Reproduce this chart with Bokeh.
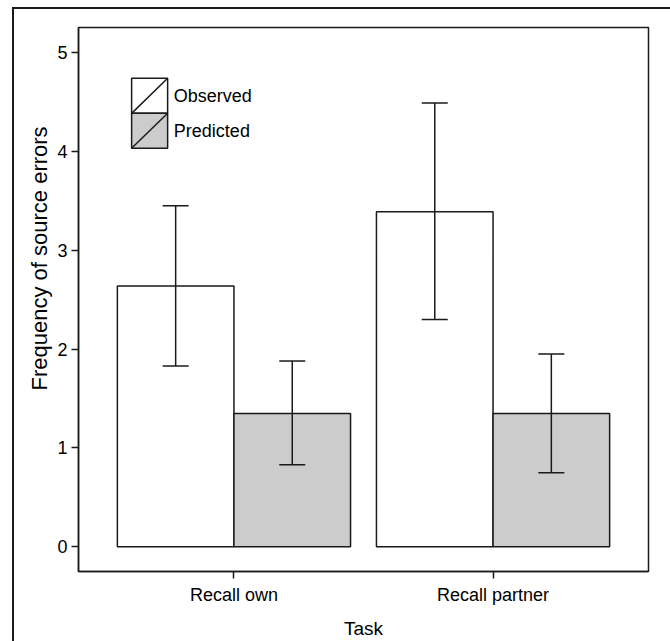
from bokeh.plotting import figure
from bokeh.models import (ColumnDataSource, FactorRange, Range1d, FixedTicker,
                          Whisker, TeeHead, Title)
from bokeh.transform import dodge
from bokeh.core.properties import value
from bokeh.embed import file_html
from bokeh.resources import INLINE

# ---- data ----
tasks = ["Recall own", "Recall partner"]
observed = [2.64, 3.39]
observed_upper = [3.45, 4.49]
observed_lower = [1.83, 2.30]
predicted = [1.35, 1.35]
predicted_upper = [1.88, 1.95]
predicted_lower = [0.83, 0.75]
y_ticks = [0, 1, 2, 3, 4, 5]
series_names = ["Observed", "Predicted"]
series_colors = ["#ffffff", "#cccccc"]

FONT = "Liberation Sans"
LC = "#1a1a1a"
W, H = 670, 641

src = ColumnDataSource(dict(task=tasks, obs=observed, obs_u=observed_upper, obs_l=observed_lower,
                            pred=predicted, pred_u=predicted_upper, pred_l=predicted_lower))

p = figure(width=W, height=H, output_backend="svg", toolbar_location=None,
           x_range=FactorRange(*tasks, range_padding=0.1, range_padding_units="absolute"),
           y_range=Range1d(-0.25, 5.255),
           min_border_left=78, min_border_right=22, min_border_top=27, min_border_bottom=68)

p.xgrid.visible = False
p.ygrid.visible = False
p.outline_line_color = LC
p.outline_line_width = 1.5
p.background_fill_color = "white"
p.border_fill_alpha = 0
# outer figure border (only its left and top edges fall inside the window)
p.styles = {
    "background": (f"linear-gradient({LC},{LC}) 12px 7px / 2px 100% no-repeat, "
                   f"linear-gradient({LC},{LC}) 12px 7px / 100% 2px no-repeat, white")
}

off = 0.225
bw = 0.45
p.vbar(x=dodge("task", -off, range=p.x_range), top="obs", bottom=0, width=bw, source=src,
       fill_color=series_colors[0], line_color=LC, line_width=1.5)
p.vbar(x=dodge("task", off, range=p.x_range), top="pred", bottom=0, width=bw, source=src,
       fill_color=series_colors[1], line_color=LC, line_width=1.5)

for xo, up, lo in [(-off, "obs_u", "obs_l"), (off, "pred_u", "pred_l")]:
    w = Whisker(source=src, base=dodge("task", xo, range=p.x_range), upper=up, lower=lo,
                dimension="height", line_color=LC, line_width=1.5, level="overlay",
                upper_head=TeeHead(size=26, line_color=LC, line_width=1.5),
                lower_head=TeeHead(size=26, line_color=LC, line_width=1.5))
    p.add_layout(w)

# ---- legend (drawn manually) ----
lg_left, lg_right = 0.105, 0.244
lg_tops = [4.741, 4.388]
lg_h = 0.355
for i, name in enumerate(series_names):
    t = lg_tops[i]
    p.quad(left=[lg_left], right=[lg_right], top=[t], bottom=[t - lg_h],
           fill_color=series_colors[i], line_color=LC, line_width=1.5)
    p.segment(x0=[lg_left], y0=[t - lg_h], x1=[lg_right], y1=[t], line_color=LC, line_width=1.5)
    p.text(x=[0.268], y=[t - lg_h / 2], text=[name], text_font=value(FONT),
           text_font_size="18px", text_baseline="middle", text_align="left", text_color="black")

# ---- axes ----
for ax in (p.xaxis[0], p.yaxis[0]):
    ax.axis_line_color = LC
    ax.axis_line_width = 1.5
    ax.major_tick_line_color = LC
    ax.major_tick_line_width = 1.5
    ax.major_tick_out = 7
    ax.major_tick_in = 0
    ax.minor_tick_line_color = None
    ax.major_label_text_font = FONT
    ax.major_label_text_font_size = "18px"
    ax.major_label_text_color = "black"
    ax.axis_label_text_font = FONT
    ax.axis_label_text_font_size = "19px"
    ax.axis_label_text_font_style = "normal"
    ax.axis_label_text_color = "black"

p.yaxis.ticker = FixedTicker(ticks=y_ticks)
p.yaxis.major_label_standoff = 4
p.add_layout(Title(text="Frequency of source errors", align="left", offset=181,
                   text_font=FONT, text_font_size="22px", text_font_style="normal",
                   text_color="black", standoff=6), "left")
p.xaxis.axis_label = "Task"
p.xaxis.major_label_standoff = 6
p.xaxis.axis_label_standoff = 10
p.xaxis.major_label_orientation = "horizontal"

open("out.html", "w").write(file_html(p, INLINE))
